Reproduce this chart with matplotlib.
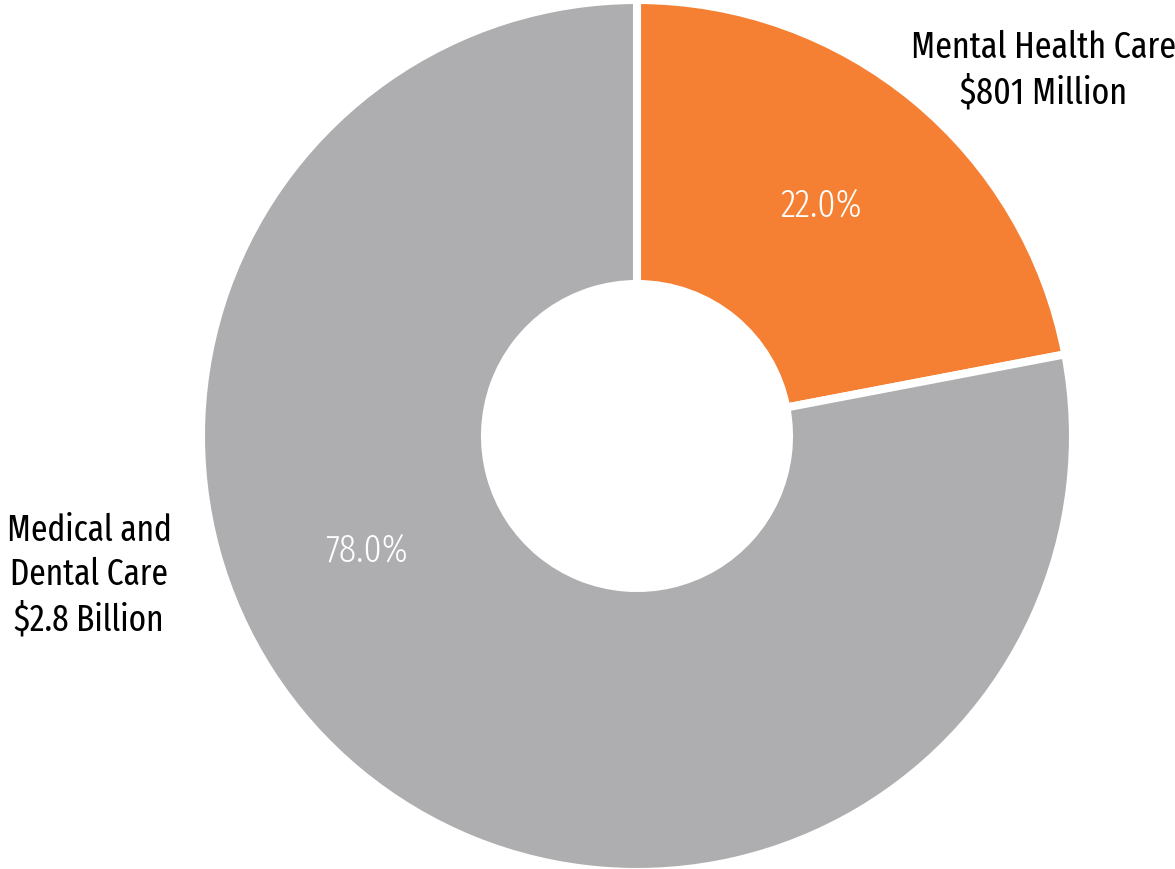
import numpy as np
import matplotlib.pyplot as plt

categories = ["Mental Health Care", "Medical and\nDental Care"]
amounts = ["$801 Million", "$2.8 Billion"]
shares = [22.0, 78.0]
colors = ["#F58033", "#AEAEB0"]

W, H = 1175, 870
fig = plt.figure(figsize=(W / 100, H / 100), dpi=100)
ax = fig.add_axes([0, 0, 1, 1])

cx, cy = 637, H - 437
R = 436
ax.pie(shares, colors=colors, startangle=90, counterclock=False,
       center=(cx, cy), radius=R,
       wedgeprops=dict(width=284, edgecolor="white", linewidth=5.8))

ax.set_xlim(0, W)
ax.set_ylim(0, H)
ax.set_aspect("equal")
ax.axis("off")

font = ["Fira Sans Extra Condensed", "DejaVu Sans"]

# percentage labels inside the ring
pct_pos = [(51.5, 296), (202.7, 293)]
for val, (ang, r) in zip(shares, pct_pos):
    a = np.radians(ang)
    ax.text(cx + r * np.cos(a), cy + r * np.sin(a), f"{val:.1f}%",
            ha="center", va="center", color="white", fontsize=28,
            family=font, weight=300)

# category labels outside the ring
ax.text(1044, H - 70, f"{categories[0]}\n{amounts[0]}", ha="center",
        va="center", fontsize=26.5, family=font, linespacing=1.3)
ax.text(89, H - 575, f"{categories[1]}\n{amounts[1]}", ha="center",
        va="center", fontsize=26, family=font, linespacing=1.3)

fig.savefig("out.png", dpi=100, facecolor="white")
